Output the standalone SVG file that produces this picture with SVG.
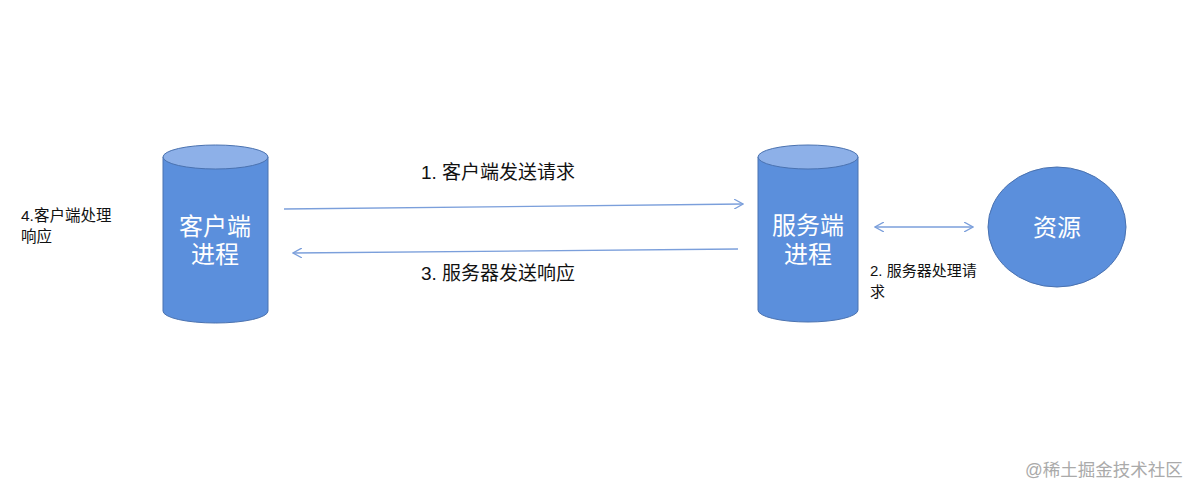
<svg xmlns="http://www.w3.org/2000/svg" width="1203" height="498" viewBox="0 0 1203 498">
<style>
.body{fill:#5b8fdc;stroke:#4a72b0;stroke-width:1}
.top{fill:#8db0e8;stroke:#4a72b0;stroke-width:1}
.w{fill:#fff;font-family:"Liberation Sans","Noto Sans CJK SC",sans-serif;font-size:24px;text-anchor:middle}
.b{fill:#111;font-family:"Liberation Sans","Noto Sans CJK SC",sans-serif}
.c{stroke:#7b9fdb;stroke-width:1.3;fill:none}
</style>
<defs>
<marker id="ah" viewBox="0 0 10 10" refX="9" refY="5" markerWidth="10" markerHeight="10" markerUnits="userSpaceOnUse" orient="auto-start-reverse">
<path d="M0,0 L9,5 L0,10" fill="none" stroke="#7b9fdb" stroke-width="1.3"/>
</marker>
</defs>
<rect width="1203" height="498" fill="#fff"/>
<g id="client">
<path class="body" d="M163,157 L163,311 A52.5,12 0 0 0 268,311 L268,157 Z"/>
<ellipse class="top" cx="215.5" cy="157" rx="52.5" ry="12"/>
<text class="w" x="215" y="235">客户端</text>
<text class="w" x="215" y="263">进程</text>
</g>
<g id="server">
<path class="body" d="M758,157 L758,310 A50,12 0 0 0 858,310 L858,157 Z"/>
<ellipse class="top" cx="808" cy="157" rx="50" ry="12"/>
<text class="w" x="808" y="234">服务端</text>
<text class="w" x="808" y="263">进程</text>
</g>
<g id="resource">
<ellipse class="body" cx="1057" cy="227" rx="69" ry="60"/>
<text class="w" x="1057" y="236">资源</text>
</g>
<g id="connectors">
<line class="c" x1="284" y1="209" x2="743" y2="204" marker-end="url(#ah)"/>
<line class="c" x1="738" y1="249" x2="293" y2="253" marker-end="url(#ah)"/>
<line class="c" x1="875" y1="227" x2="973" y2="227" marker-start="url(#ah)" marker-end="url(#ah)"/>
</g>
<g id="labels">
<text class="b" x="421" y="179" font-size="19">1. 客户端发送请求</text>
<text class="b" x="421" y="280" font-size="19">3. 服务器发送响应</text>
<text class="b" x="870" y="276" font-size="15">2. 服务器处理请</text>
<text class="b" x="870" y="297" font-size="15">求</text>
<text class="b" x="21" y="221" font-size="15.5">4.客户端处理</text>
<text class="b" x="21" y="242" font-size="15.5">响应</text>
<text x="1025" y="476" font-size="17.5" fill="#aaa" font-family="'Liberation Sans','Noto Sans CJK SC',sans-serif">@稀土掘金技术社区</text>
</g>
</svg>
